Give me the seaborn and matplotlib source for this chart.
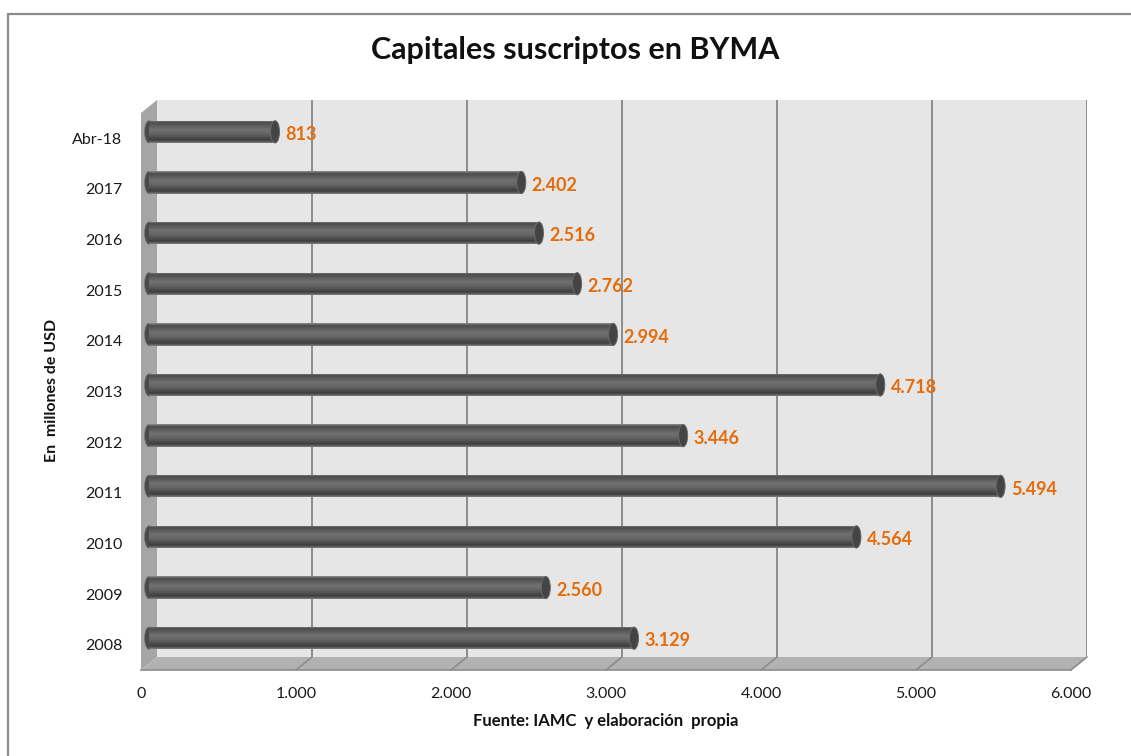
import numpy as np
import matplotlib
matplotlib.use("Agg")
import matplotlib.pyplot as plt
from matplotlib.patches import Polygon, Ellipse
from matplotlib.lines import Line2D
from matplotlib.colors import LinearSegmentedColormap
import seaborn as sns

# Data (millones de USD)
periodos = ["2008", "2009", "2010", "2011", "2012", "2013", "2014",
            "2015", "2016", "2017", "Abr-18"]
capitales = [3129, 2560, 4564, 5494, 3446, 4718, 2994, 2762, 2516, 2402, 813]
ticks_x = [0, 1000, 2000, 3000, 4000, 5000, 6000]

titulo = "Capitales suscriptos en BYMA"
etiqueta_y = "En  millones de USD"
etiqueta_x = "Fuente: IAMC  y elaboración  propia"

sns.set_style("white")
plt.rcParams["font.family"] = ["Lato", "DejaVu Sans"]

W, H = 1131, 756
fig = plt.figure(figsize=(W / 100, H / 100), dpi=100)


def caja(izq, arriba, der, abajo):
    return [izq / W, 1 - abajo / H, (der - izq) / W, (abajo - arriba) / H]


# three depth planes of the fake 3D box: front, middle (bars), back wall
DX, DY = 8, 6.5
ANCHO, ALTO = 930, 557


def plano(k):
    izq = 141 + k * DX
    abajo = 670 - k * DY
    return caja(izq, abajo - ALTO, izq + ANCHO, abajo)


orden = periodos[::-1]
xmax = ticks_x[-1]
gris_linea = "#8c8c8c"

# canvas in pixel coords for the side wall, floor and frame
lienzo = fig.add_axes([0, 0, 1, 1], zorder=0)
lienzo.set_xlim(0, W)
lienzo.set_ylim(H, 0)
lienzo.axis("off")
lienzo.add_patch(Polygon([(141, 113), (157, 100), (157, 657), (141, 670)],
                         closed=True, facecolor="#a5a5a5", edgecolor="none"))
lienzo.add_patch(Polygon([(141, 670), (157, 657), (157 + ANCHO, 657), (141 + ANCHO, 670)],
                         closed=True, facecolor="#b2b2b2", edgecolor="none"))
for t in ticks_x[1:]:
    xf = 141 + t / xmax * ANCHO
    lienzo.add_line(Line2D([xf, xf + 2 * DX], [670, 657], color=gris_linea, lw=1.2))
lienzo.add_line(Line2D([7.5, 7.5], [13.5, H + 5], color="#8a8a8a", lw=1.6))
lienzo.add_line(Line2D([7.5, W + 5], [13.5, 13.5], color="#8a8a8a", lw=1.6))

# back wall
pared = fig.add_axes(plano(2), zorder=1)
pared.set_facecolor("#e6e6e6")
pared.set_xlim(0, xmax)
pared.set_xticks(ticks_x[1:])
pared.grid(axis="x", color=gris_linea, lw=1.4)
pared.tick_params(length=0, labelbottom=False, labelleft=False)
pared.set_yticks([])
for s in pared.spines.values():
    s.set_visible(False)

# front plane: ticks and labels
frente = fig.add_axes(plano(0), zorder=2)
frente.set_facecolor("none")
frente.set_xlim(0, xmax)
frente.set_ylim(len(orden) - 0.5, -0.5)
frente.set_xticks(ticks_x)
frente.set_xticklabels([f"{t:,}".replace(",", ".") for t in ticks_x])
frente.set_yticks(range(len(orden)))
frente.set_yticklabels(orden)
for lado in ["top", "right", "left"]:
    frente.spines[lado].set_visible(False)
frente.spines["bottom"].set_color(gris_linea)
frente.spines["bottom"].set_linewidth(1.2)
frente.tick_params(axis="x", length=5, color=gris_linea, width=1.2, pad=7,
                   labelsize=11.5, labelcolor="#1a1a1a")
frente.tick_params(axis="y", length=0, pad=13.5, labelsize=11.5, labelcolor="#1a1a1a")
frente.set_xlabel(etiqueta_x, fontsize=12, fontweight="bold", color="#111111")
frente.xaxis.label.set_va("center")
frente.xaxis.set_label_coords(0.5, -(721 - 670) / ALTO)
frente.set_ylabel(etiqueta_y, fontsize=11.5, fontweight="bold", color="#111111")
frente.yaxis.label.set_va("center")
frente.yaxis.set_label_coords((52 - 141) / ANCHO, (670 - 390) / ALTO)

# middle plane: cylinder bars
barras = fig.add_axes(plano(1), zorder=3)
barras.set_facecolor("none")
sns.barplot(x=capitales, y=periodos, order=orden, orient="h", width=0.44,
            color="#555555", edgecolor="none", ax=barras)

cmap = LinearSegmentedColormap.from_list(
    "cilindro", [(0, "#8d8d8d"), (0.1, "#4c4c4c"), (0.4, "#707070"),
                 (0.58, "#676767"), (0.88, "#3d3d3d"), (1, "#7c7c7c")])
grad = np.linspace(0, 1, 64).reshape(-1, 1)
tapa = 9 / ANCHO * xmax

for barra in list(barras.patches):
    x0 = barra.get_x()
    y0 = barra.get_y()
    h = barra.get_height()
    v = barra.get_width()
    yc = y0 + h / 2
    barras.add_patch(Ellipse((x0, yc), tapa, h, facecolor="#4a4a4a",
                             edgecolor="#7a7a7a", lw=0.6, zorder=1, clip_on=False))
    barra.set_zorder(2)
    im = barras.imshow(grad, cmap=cmap, aspect="auto", origin="upper",
                       extent=(x0, x0 + v, y0 + h, y0), zorder=2.5)
    im.set_clip_path(barra)
    barras.add_patch(Ellipse((x0 + v, yc), tapa, h, facecolor="#444444",
                             edgecolor="#6a6a6a", lw=0.7, zorder=3, clip_on=False))

for i, p in enumerate(orden):
    v = capitales[periodos.index(p)]
    barras.annotate(f"{v:,}".replace(",", "."), xy=(v, i), xytext=(7.5, -2),
                    textcoords="offset points", ha="left", va="center",
                    color="#E46C0A", fontsize=13, fontweight="bold")

barras.set_xlim(0, xmax)
barras.set_ylim(len(orden) - 0.5, -0.5)
barras.axis("off")

fig.text(575 / W, 1 - 50 / H, titulo, ha="center", va="center",
         fontsize=22, fontweight="bold", color="#111111")

fig.savefig("out.png", dpi=100)
